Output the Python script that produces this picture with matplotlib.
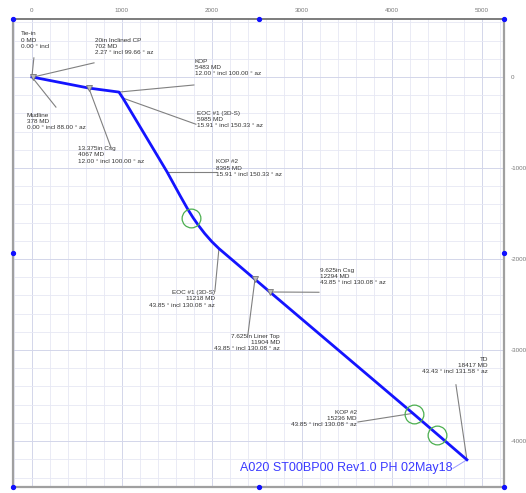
import matplotlib.pyplot as plt

# well path in plan view (east / north, ft)
path_e = [0, 633, 967, 1011, 1500, 1650, 1730, 1790, 1850, 1920, 2000, 2078, 2478, 2644, 4233, 4833]
path_n = [0, -122, -166, -232, -1040, -1310, -1450, -1545, -1630, -1720, -1810, -1885, -2222, -2362, -3695, -4205]

# survey stations that get a label
stn_names = ["Tie-in", "20in Inclined CP", "Mudline", "13.375in Csg", "KOP", "EOC #1 (3D-S)",
             "KOP #2", "EOC #1 (3D-S)", "7.625in Liner Top", "9.625in Csg", "KOP #2", "TD"]
stn_md = [0, 702, 378, 4067, 5483, 5985, 8395, 11218, 11904, 12294, 15236, 18417]
stn_inc = ["0.00", "2.27", "0.00", "12.00", "12.00", "15.91", "15.91", "43.85", "43.85", "43.85", "43.85", "43.43"]
stn_az = [None, "99.66", "88.00", "100.00", "100.00", "150.33", "150.33", "130.08", "130.08", "130.08", "130.08", "131.58"]
stn_e = [0, 8, 0, 633, 967, 1011, 1500, 2078, 2478, 2644, 4233, 4833]
stn_n = [0, -2, 0, -122, -166, -232, -1040, -1885, -2222, -2362, -3695, -4205]

# casing points and anti-collision circles
csg_e = [8, 633, 2478, 2644]
csg_n = [-2, -122, -2222, -2362]
ring_e = [1767, 4244, 4500]
ring_n = [-1547, -3705, -3930]

well_name = "A020 ST00BP00 Rev1.0 PH 02May18"

# label layout: text anchor (e, n), alignment, leader start (e, n)
label_layout = [
    ((-120, 500), "left", (22, 210)),
    ((700, 430), "left", (690, 155)),
    ((-56, -398), "left", (267, -331)),
    ((511, -762), "left", (878, -773)),
    ((1811, 199), "left", (1800, -88)),
    ((1833, -376), "left", (1822, -519)),
    ((2044, -906), "left", (2044, -1040)),
    ((2033, -2343), "right", (2033, -2354)),
    ((2755, -2818), "right", (2400, -2829)),
    ((3200, -2100), "left", (3189, -2365)),
    ((3611, -3658), "right", (3622, -3790)),
    ((5066, -3072), "right", (4711, -3381)),
]

plt.rcParams['font.family'] = ['Liberation Sans', 'DejaVu Sans']

fig = plt.figure(figsize=(5.26, 4.93), dpi=100)
ax = fig.add_axes([0.0247, 0.012, 0.9335, 0.9495])
ax.set_xlim(-210, 5245)
ax.set_ylim(-4505, 637)

# grid
ax.set_xticks(range(0, 5001, 1000))
ax.set_yticks(range(-4000, 1, 1000))
ax.set_xticks(range(-200, 5201, 200), minor=True)
ax.set_yticks(range(-4400, 601, 200), minor=True)
ax.grid(which='major', color='#d3d6ea', lw=0.7)
ax.grid(which='minor', color='#e6e8f4', lw=0.6)
ax.set_axisbelow(True)
ax.xaxis.tick_top()
ax.yaxis.tick_right()
ax.tick_params(which='both', length=0, labelsize=4.5, labelcolor='#777777', pad=4)
ax.tick_params(axis='y', pad=5)
ax.set_xticklabels([str(v) for v in range(0, 5001, 1000)])
ax.set_yticklabels([str(v) for v in range(-4000, 1, 1000)])

for side in ['left', 'right', 'bottom']:
    ax.spines[side].set_color('#a0a0a0')
    ax.spines[side].set_linewidth(1.6)
ax.spines['top'].set_color('#666666')
ax.spines['top'].set_linewidth(1.2)

# handle dots on the frame
for fx, fy in [(0, 0), (0.5, 0), (1, 0), (0, 0.5), (1, 0.5), (0, 1), (0.5, 1), (1, 1)]:
    ax.plot(fx, fy, 'o', ms=2.8, color='#1010ff', transform=ax.transAxes, clip_on=False, zorder=6)

# labels and leaders
for i, name in enumerate(stn_names):
    (tx, ty), ha, (lx, ly) = label_layout[i]
    if stn_az[i] is None:
        third = f"{stn_inc[i]} ° incl"
    else:
        third = f"{stn_inc[i]} ° incl {stn_az[i]} ° az"
    txt = f"{name}\n{stn_md[i]} MD\n{third}"
    ax.text(tx, ty, txt, fontsize=4.6, ha=ha, va='top', multialignment=ha,
            linespacing=1.28, color='#333333', zorder=4)
    ax.plot([lx, stn_e[i]], [ly, stn_n[i]], color='#808080', lw=0.8, zorder=3)

# well path
ax.plot(path_e, path_n, color='#1414ff', lw=2.0, zorder=5, solid_joinstyle='round')
ax.plot(csg_e, csg_n, 'v', ms=4, mfc='#bbbbbb', mec='#777777', mew=0.6, zorder=5)
ax.plot(ring_e, ring_n, 'o', ms=13.5, mfc='none', mec='#4caf50', mew=0.9, zorder=6)

# well name at TD
ax.plot([4677, stn_e[-1]], [-4300, stn_n[-1]], color='#9a9aff', lw=0.7, zorder=4)
ax.text(4677, -4300, well_name, fontsize=9, color='#3a3aff', ha='right', va='center', zorder=4)

fig.savefig('out.png', dpi=100)
